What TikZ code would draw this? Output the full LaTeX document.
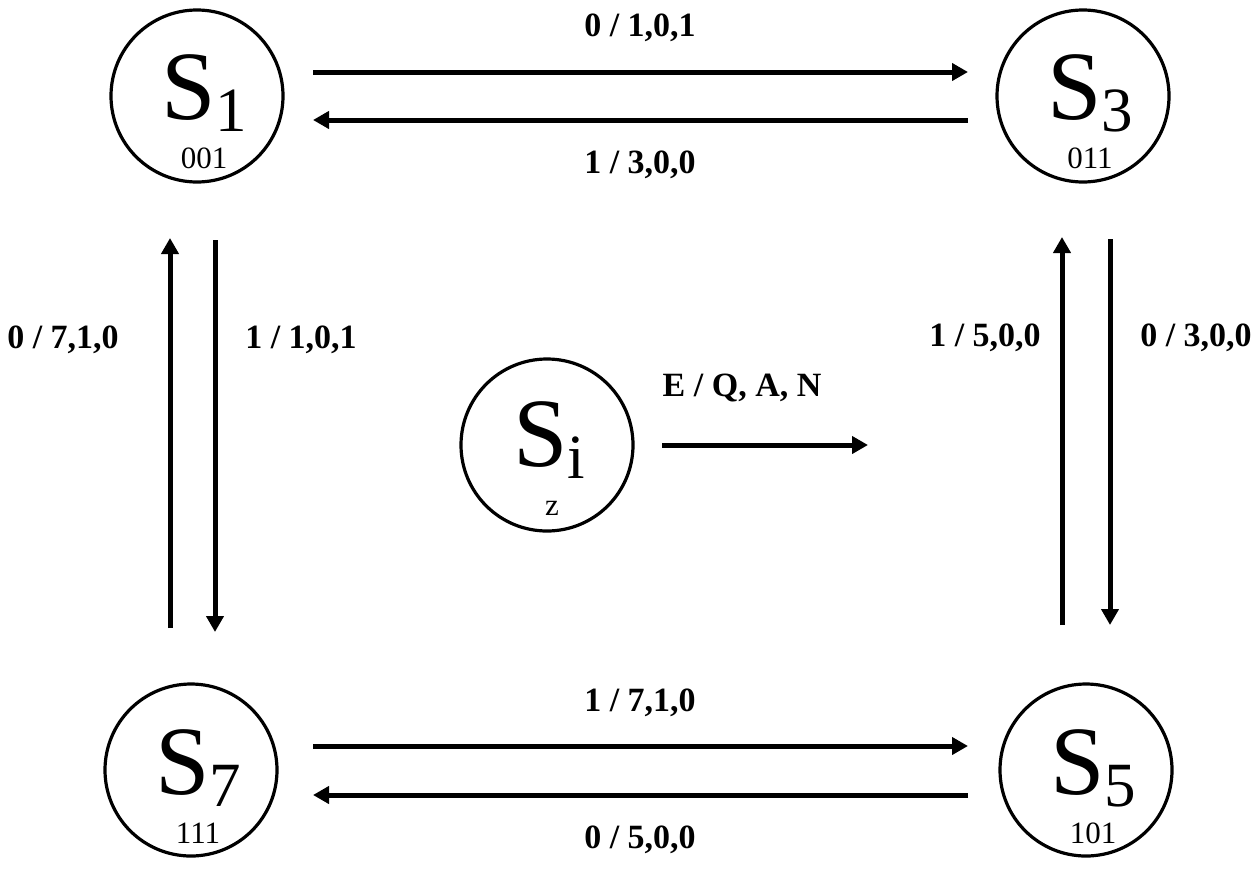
\documentclass[tikz,border=0pt]{standalone}
\usepackage{fontspec}
\setmainfont{Liberation Serif}
\usetikzlibrary{arrows.meta,calc}
\newcommand{\bigSfont}{\fontsize{98}{98}\selectfont}
\newcommand{\subSfont}{\fontsize{63}{63}\selectfont}
\newcommand{\codefont}{\fontsize{31}{31}\selectfont}
\newcommand{\lblfont}{\fontsize{34}{34}\selectfont\bfseries}
\begin{document}
\begin{tikzpicture}[x=1pt,y=-1pt,
  state/.style={circle,draw,line width=3.2pt,minimum size=172pt,inner sep=0pt},
  sname/.style={anchor=base,inner sep=0pt},
  code/.style={anchor=base,inner sep=0pt,font=\codefont},
  lbl/.style={inner sep=0pt,font=\lblfont},
  arr/.style={line width=5pt,-{Triangle[length=16pt,width=17pt]}}]
\useasboundingbox (0,0) rectangle (1258,868);
% states
\node[state] (s1) at (197,96) {};
\node[state] (s3) at (1083,96) {};
\node[state] (s7) at (191,770) {};
\node[state] (s5) at (1086,770) {};
\node[state] (si) at (547,445) {};
% state names
\node[sname] (n1) at ($(s1.center)+(7,23)$) {\bigSfont S\raisebox{-12pt}{\subSfont 1}};
\node[code] (c1) at ($(s1.center)+(7,72)$) {001};
\node[sname] (n3) at ($(s3.center)+(7,23)$) {\bigSfont S\raisebox{-12pt}{\subSfont 3}};
\node[code] (c3) at ($(s3.center)+(7,72)$) {011};
\node[sname] (n7) at ($(s7.center)+(7,24)$) {\bigSfont S\raisebox{-12pt}{\subSfont 7}};
\node[code] (c7) at ($(s7.center)+(7,73)$) {111};
\node[sname] (n5) at ($(s5.center)+(7,24)$) {\bigSfont S\raisebox{-12pt}{\subSfont 5}};
\node[code] (c5) at ($(s5.center)+(7,73)$) {101};
\node[sname] (ni) at ($(si.center)+(2,21)$) {\bigSfont S\raisebox{-12pt}{\subSfont i}};
\node[code] (ci) at ($(si.center)+(5,70)$) {z};
% arrow end points
\coordinate (a1) at (313,72);  \coordinate (a2) at (968,72);
\coordinate (b1) at (968,120); \coordinate (b2) at (313,120);
\coordinate (c1a) at (313,746); \coordinate (c2a) at (968,746);
\coordinate (d1) at (968,795); \coordinate (d2) at (313,795);
\coordinate (e1) at (170,628); \coordinate (e2) at (170,238);
\coordinate (f1) at (215,240); \coordinate (f2) at (215,632);
\coordinate (g1) at (1062,625); \coordinate (g2) at (1062,237);
\coordinate (h1) at (1110,239); \coordinate (h2) at (1110,625);
\coordinate (i1) at (662,445); \coordinate (i2) at (868,445);
\draw[arr] (a1) -- (a2);
\draw[arr] (b1) -- (b2);
\draw[arr] (c1a) -- (c2a);
\draw[arr] (d1) -- (d2);
\draw[arr] (e1) -- (e2);
\draw[arr] (f1) -- (f2);
\draw[arr] (g1) -- (g2);
\draw[arr] (h1) -- (h2);
\draw[arr] (i1) -- (i2);
% labels
\node[lbl] (l1) at (640,28) {0 / 1,0,1};
\node[lbl] (l2) at (640,165) {1 / 3,0,0};
\node[lbl] (l3) at (640,703) {1 / 7,1,0};
\node[lbl] (l4) at (640,840) {0 / 5,0,0};
\node[lbl] (l5) at (63,340) {0 / 7,1,0};
\node[lbl] (l6) at (301,340) {1 / 1,0,1};
\node[lbl] (l7) at (985,338) {1 / 5,0,0};
\node[lbl] (l8) at (1196,338) {0 / 3,0,0};
\node[lbl] (l9) at (742,388) {E / Q, A, N};
\end{tikzpicture}
\end{document}
